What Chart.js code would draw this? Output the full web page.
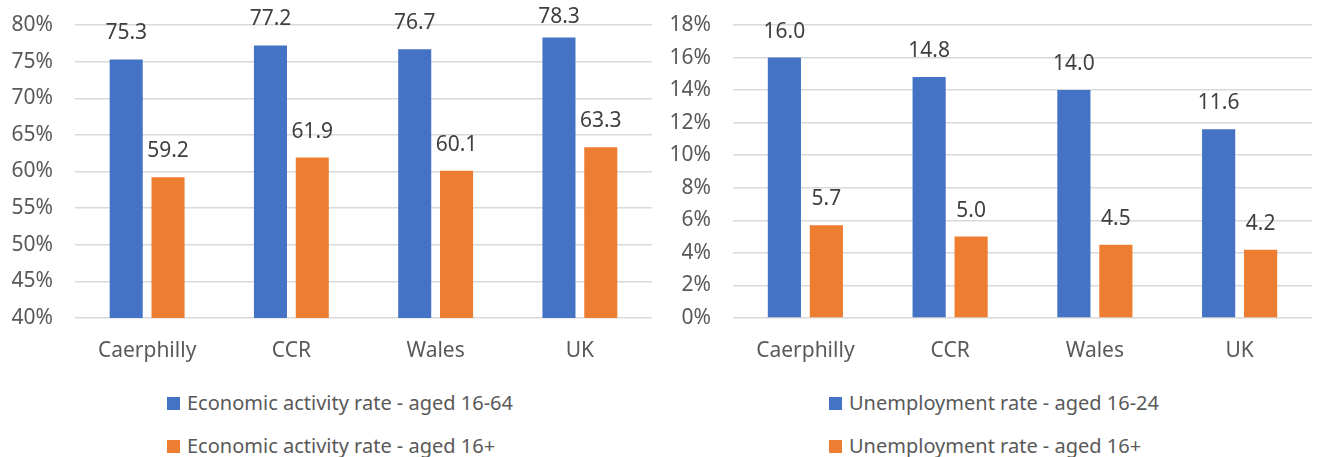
<!DOCTYPE html>
<html>
<head>
<meta charset="utf-8">
<script src="https://cdn.jsdelivr.net/npm/chart.js@4/dist/chart.umd.min.js"></script>
<style>
  body { margin: 0; background: #fff; width: 1319px; height: 457px; overflow: hidden; position: relative; font-family: "Noto Sans", sans-serif; }
  .box { position: absolute; top: 0; height: 370px; }
  .legend { position: absolute; color: #595959; font-size: 20px; }
  .legend div { position: absolute; white-space: nowrap; line-height: 22px; }
  .legend span { display: inline-block; width: 13px; height: 13px; margin-right: 7px; vertical-align: 0px; }
</style>
</head>
<body>
<div class="box" style="left:0;width:655px"><canvas id="activityChart"></canvas></div>
<div class="box" style="left:660px;width:659px"><canvas id="unempChart"></canvas></div>
<div class="legend" id="activityLegend" style="left:167px;top:392px"></div>
<div class="legend" id="unempLegend" style="left:829px;top:392px"></div>
<script>
// data
const categories = ['Caerphilly', 'CCR', 'Wales', 'UK'];

const activityLabels = ['Economic activity rate - aged 16-64', 'Economic activity rate - aged 16+'];
const activity1664 = [75.3, 77.2, 76.7, 78.3];
const activity16plus = [59.2, 61.9, 60.1, 63.3];
const activityTicks = [40, 45, 50, 55, 60, 65, 70, 75, 80];

const unempLabels = ['Unemployment rate - aged 16-24', 'Unemployment rate - aged 16+'];
const unemp1624 = [16.0, 14.8, 14.0, 11.6];
const unemp16plus = [5.7, 5.0, 4.5, 4.2];
const unempTicks = [0, 2, 4, 6, 8, 10, 12, 14, 16, 18];

const BLUE = '#4472C4';
const ORANGE = '#ED7D31';
const FONT = '"Noto Sans", sans-serif';

// value labels above each bar (kept inside the canvas like excel does)
const barValues = {
    id: 'barValues',
    afterDatasetsDraw(chart) {
        const ctx = chart.ctx;
        ctx.save();
        ctx.font = '21px ' + FONT;
        ctx.fillStyle = '#404040';
        ctx.textAlign = 'center';
        ctx.textBaseline = 'middle';
        chart.data.datasets.forEach((ds, i) => {
            chart.getDatasetMeta(i).data.forEach((bar, j) => {
                const y = Math.max(bar.y - 26, 17);
                ctx.fillText(ds.data[j].toFixed(1), bar.x, y);
            });
        });
        ctx.restore();
    }
};

function makeChart(id, labels, blueData, orangeData, ticks, axisWidth, padRight) {
    const ctx = document.getElementById(id).getContext('2d');
    return new Chart(ctx, {
        type: 'bar',
        data: {
            labels: categories,
            datasets: [
                { label: labels[0], data: blueData, backgroundColor: BLUE },
                { label: labels[1], data: orangeData, backgroundColor: ORANGE }
            ]
        },
        options: {
            responsive: true,
            maintainAspectRatio: false,
            animation: false,
            layout: { padding: { top: 25, right: padRight, left: 0, bottom: 0 } },
            datasets: { bar: { categoryPercentage: 0.58, barPercentage: 0.79 } },
            plugins: { legend: { display: false }, tooltip: { enabled: false } },
            scales: {
                x: {
                    grid: { display: false },
                    border: { display: false },
                    ticks: { color: '#595959', font: { family: FONT, size: 21 }, padding: 12 },
                    afterFit(scale) { scale.height = 52; }
                },
                y: {
                    min: ticks[0],
                    max: ticks[ticks.length - 1],
                    grid: { color: '#d9d9d9', lineWidth: 1.5, drawTicks: false },
                    border: { display: false },
                    ticks: {
                        stepSize: ticks[1] - ticks[0],
                        color: '#595959',
                        font: { family: FONT, size: 21 },
                        padding: 22,
                        callback: v => v + '%'
                    },
                    afterFit(scale) {
                        scale.width = axisWidth;
                        scale.paddingTop = 0;
                        scale.paddingBottom = 0;
                    }
                }
            }
        },
        plugins: [barValues]
    });
}

function makeLegend(id, labels) {
    const el = document.getElementById(id);
    [BLUE, ORANGE].forEach((c, i) => {
        const row = document.createElement('div');
        row.style.top = (i * 43) + 'px';
        row.innerHTML = '<span style="background:' + c + '"></span>' + labels[i];
        el.appendChild(row);
    });
}

makeChart('activityChart', activityLabels, activity1664, activity16plus, activityTicks, 75, 3);
makeChart('unempChart', unempLabels, unemp1624, unemp16plus, unempTicks, 73, 7);
makeLegend('activityLegend', activityLabels);
makeLegend('unempLegend', unempLabels);
</script>
</body>
</html>
